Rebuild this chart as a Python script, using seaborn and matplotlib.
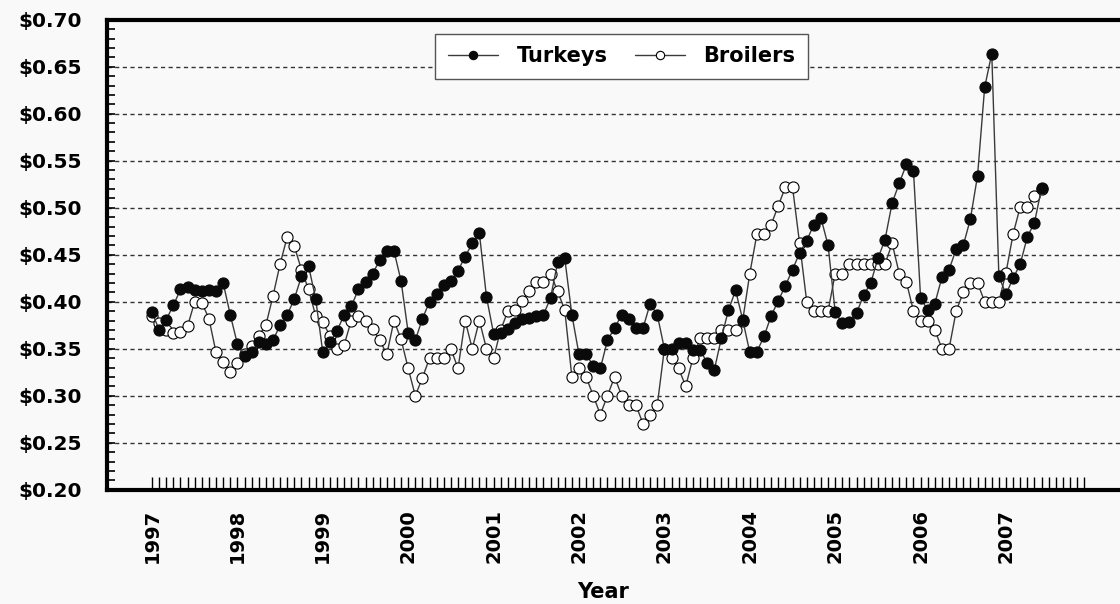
import numpy as np
import pandas as pd
import seaborn as sns
import matplotlib.pyplot as plt
from matplotlib.ticker import FixedLocator, MultipleLocator, FuncFormatter

# monthly prices, Jan 1997 - Jun 2007
start_year = 1997
years = list(range(1997, 2008))

turkeys = [0.389, 0.370, 0.381, 0.396, 0.413, 0.416, 0.412, 0.411, 0.412, 0.411, 0.420, 0.386,
           0.355, 0.342, 0.347, 0.357, 0.355, 0.359, 0.375, 0.386, 0.403, 0.427, 0.438, 0.403,
           0.346, 0.357, 0.369, 0.386, 0.395, 0.413, 0.421, 0.430, 0.444, 0.454, 0.454, 0.422,
           0.367, 0.359, 0.382, 0.400, 0.408, 0.418, 0.422, 0.433, 0.448, 0.462, 0.473, 0.405,
           0.366, 0.367, 0.371, 0.377, 0.382, 0.383, 0.385, 0.386, 0.404, 0.442, 0.446, 0.386,
           0.344, 0.344, 0.332, 0.329, 0.359, 0.372, 0.386, 0.382, 0.372, 0.372, 0.398, 0.386,
           0.350, 0.350, 0.356, 0.356, 0.349, 0.349, 0.335, 0.327, 0.361, 0.391, 0.412, 0.381,
           0.346, 0.347, 0.363, 0.385, 0.401, 0.417, 0.434, 0.452, 0.465, 0.482, 0.489, 0.460,
           0.389, 0.377, 0.378, 0.388, 0.407, 0.420, 0.446, 0.466, 0.505, 0.526, 0.546, 0.539,
           0.404, 0.391, 0.398, 0.426, 0.434, 0.456, 0.460, 0.488, 0.534, 0.628, 0.664, 0.427,
           0.408, 0.425, 0.440, 0.469, 0.484, 0.521]

broilers = [0.385, 0.377, 0.370, 0.367, 0.368, 0.374, 0.400, 0.399, 0.382, 0.346, 0.336, 0.325,
            0.335, 0.344, 0.353, 0.364, 0.375, 0.406, 0.440, 0.469, 0.459, 0.434, 0.413, 0.385,
            0.378, 0.364, 0.350, 0.354, 0.380, 0.385, 0.379, 0.371, 0.359, 0.344, 0.380, 0.360,
            0.329, 0.300, 0.319, 0.340, 0.340, 0.340, 0.350, 0.329, 0.380, 0.350, 0.380, 0.350,
            0.340, 0.370, 0.390, 0.391, 0.401, 0.411, 0.421, 0.421, 0.430, 0.411, 0.391, 0.320,
            0.330, 0.320, 0.300, 0.280, 0.300, 0.320, 0.300, 0.290, 0.290, 0.270, 0.280, 0.290,
            0.350, 0.340, 0.329, 0.310, 0.340, 0.361, 0.361, 0.361, 0.370, 0.370, 0.370, 0.380,
            0.430, 0.472, 0.472, 0.482, 0.502, 0.522, 0.522, 0.462, 0.400, 0.390, 0.390, 0.390,
            0.430, 0.430, 0.440, 0.440, 0.440, 0.440, 0.440, 0.440, 0.462, 0.430, 0.421, 0.390,
            0.380, 0.380, 0.370, 0.350, 0.350, 0.390, 0.410, 0.420, 0.420, 0.400, 0.400, 0.400,
            0.431, 0.472, 0.501, 0.501, 0.512, 0.520]

months = np.arange(len(turkeys))
df = pd.DataFrame({'t': start_year + months / 12.0,
                   'Turkeys': turkeys,
                   'Broilers': broilers})

sns.set_style('white')
plt.rcParams['font.family'] = ['DejaVu Sans']
plt.rcParams['font.weight'] = 'bold'
plt.rcParams['text.color'] = 'black'
plt.rcParams['axes.labelcolor'] = 'black'
plt.rcParams['xtick.color'] = 'black'
plt.rcParams['ytick.color'] = 'black'

bg = '#f9f9f9'
fig = plt.figure(figsize=(11.2, 6.04), dpi=100, facecolor=bg)
ax = fig.add_axes([107 / 1120, (604 - 489.7) / 604, (1120 - 107) / 1120, 470 / 604])
ax.set_facecolor(bg)

sns.lineplot(data=df, x='t', y='Broilers', ax=ax, color='#3a3a3a', lw=1,
             marker='o', markersize=8, markerfacecolor='white',
             markeredgecolor='black', markeredgewidth=0.8, label='Broilers')
sns.lineplot(data=df, x='t', y='Turkeys', ax=ax, color='#3a3a3a', lw=1,
             marker='o', markersize=8, markerfacecolor='#0a0a0a',
             markeredgecolor='#0a0a0a', markeredgewidth=0.8, label='Turkeys')

# axes range
px_year = 85.4
ax.set_xlim(1997 - 45 / px_year, 1997 + 968 / px_year)
ax.set_ylim(0.20, 0.70)

# y axis
ax.yaxis.set_major_locator(MultipleLocator(0.05))
ax.yaxis.set_minor_locator(MultipleLocator(0.01))
ax.yaxis.set_major_formatter(FuncFormatter(lambda v, p: '${:.2f}'.format(v)))
ax.tick_params(axis='y', which='both', direction='in', length=6, width=1.2,
               color='black', left=True)
ax.tick_params(axis='y', which='major', pad=18, labelsize=14.5, labelcolor='black')
ax.grid(axis='y', which='major', color='#333333', lw=1, linestyle=(0, (3, 2.5)))

# x axis: years labelled, months ticked
ax.xaxis.set_major_locator(FixedLocator(years))
ax.xaxis.set_minor_locator(FixedLocator(start_year + np.arange(132) / 12.0))
ax.set_xticklabels([str(y) for y in years], rotation=90)
ax.tick_params(axis='x', which='both', direction='in', length=9.5, width=1,
               color='black', bottom=True)
ax.tick_params(axis='x', which='major', pad=14, labelsize=14, labelcolor='black')

ax.set_ylabel('')
ax.set_xlabel('Year', fontsize=15, fontweight='bold', color='black')
ax.xaxis.set_label_coords(0.49, -0.197)

for side in ['left', 'top', 'bottom']:
    ax.spines[side].set_linewidth(3)
    ax.spines[side].set_color('black')
ax.spines['right'].set_visible(False)

h, l = ax.get_legend_handles_labels()
order = [l.index('Turkeys'), l.index('Broilers')]
leg = ax.legend([h[i] for i in order], [l[i] for i in order], ncol=2,
                loc='upper center', bbox_to_anchor=(0.508, 0.992),
                fontsize=15, frameon=True, fancybox=False, handlelength=2.4,
                handletextpad=0.9, columnspacing=1.3, borderpad=0.6,
                markerscale=0.75)
leg.get_frame().set_edgecolor('#555555')
leg.get_frame().set_facecolor('white')
leg.get_frame().set_linewidth(1)
leg.get_frame().set_alpha(1)
for txt in leg.get_texts():
    txt.set_fontweight('bold')
    txt.set_color('black')

fig.savefig('out.png', dpi=100, facecolor=bg)
